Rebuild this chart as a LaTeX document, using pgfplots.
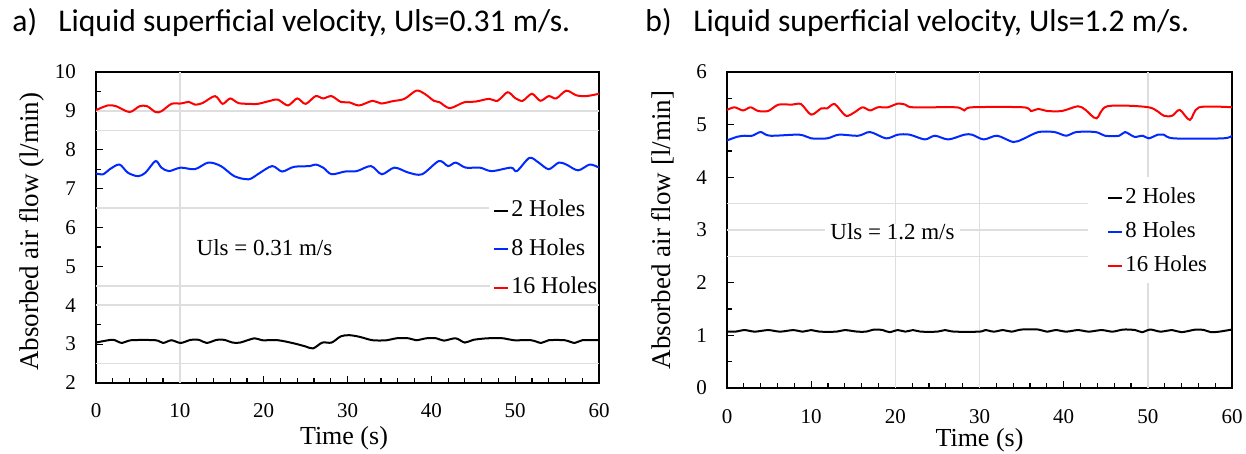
\documentclass[border=0pt]{standalone}
\usepackage{fontspec}
\setmainfont{Liberation Serif}
\newfontfamily\calibri{Carlito}
\usepackage{pgfplots}
\pgfplotsset{compat=1.18}
\definecolor{gridc}{RGB}{222,222,222}
\definecolor{myred}{RGB}{255,0,0}
\definecolor{myblue}{RGB}{0,40,255}
\pgfplotsset{
  myaxis/.style={
    scale only axis, anchor=south west,
    xmin=0, xmax=60, xtick={0,10,...,60}, minor x tick num=4,
    minor y tick num=1,
    tick align=inside, tick pos=left,
    major tick length=3.5pt, minor tick length=2.5pt,
    every tick/.style={black, line width=0.6pt},
    axis line style={line width=0.9pt},
    tick label style={font=\rmfamily\fontsize{10.5}{12}\selectfont},
    /pgf/number format/assume math mode=true,
    yticklabel style={xshift=-6.5pt},
    every axis plot/.append style={line width=1pt, smooth, tension=0.5},
    legend image code/.code={\draw[#1, line width=1pt, sharp plot] (0pt,0pt) -- (7pt,0pt);},
    legend cell align=left,
  }
}
\begin{document}
\begin{tikzpicture}
\useasboundingbox (0,0) rectangle (623pt,227pt);
\node[anchor=base west, inner sep=0pt, font=\calibri\fontsize{15.8}{18}\selectfont] at (6pt,211pt) {a)};
\node[anchor=base west, inner sep=0pt, font=\calibri\fontsize{15.8}{18}\selectfont] at (29pt,211pt) {Liquid superficial velocity, Uls=0.31 m/s.};
\node[anchor=base west, inner sep=0pt, font=\calibri\fontsize{15.8}{18}\selectfont] at (322.5pt,211pt) {b)};
\node[anchor=base west, inner sep=0pt, font=\calibri\fontsize{15.8}{18}\selectfont] at (346.5pt,211pt) {Liquid superficial velocity, Uls=1.2 m/s.};

% ---------- panel a ----------
\begin{axis}[myaxis,
  at={(48pt,35.5pt)}, width=251.5pt, height=155.5pt,
  ymin=2, ymax=10, ytick={2,...,10},
  xticklabel style={yshift=-6.5pt},
  xlabel={Time (s)}, ylabel={Absorbed air flow (l/min)},
  every axis x label/.style={at={(axis description cs:0.493,-0.177)}, anchor=center, font=\rmfamily\fontsize{13}{15}\selectfont},
  every axis y label/.style={at={(axis description cs:-0.128,0.4865)}, anchor=center, rotate=90, font=\rmfamily\fontsize{13.5}{15}\selectfont},
  legend style={at={(axis description cs:0.789,0.5932)}, anchor=north west, draw=none, fill=none, inner sep=0pt,
    row sep=7.2pt, column sep=1pt, font=\rmfamily\fontsize{12}{14}\selectfont,
    nodes={inner sep=0pt, text height=9pt, text depth=3pt}},
]
\draw[gridc, line width=0.8pt] (axis cs:10,2) -- (axis cs:10,10);
\draw[gridc, line width=0.8pt] (axis cs:0,9) -- (axis cs:60,9);
\draw[gridc, line width=0.8pt] (axis cs:0,8.5) -- (axis cs:60,8.5);
\draw[gridc, line width=0.8pt] (axis cs:0,6.5) -- (axis cs:46.9,6.5);
\draw[gridc, line width=0.8pt] (axis cs:0,4.5) -- (axis cs:47,4.5);
\draw[gridc, line width=0.8pt] (axis cs:0,4) -- (axis cs:60,4);
\draw[gridc, line width=0.8pt] (axis cs:0,2.5) -- (axis cs:60,2.5);
\addplot[black] coordinates {(0,3.04)(1.2,3.09)(2.1,3.11)(3.1,3.03)(4.2,3.10)(7.1,3.10)(8.0,3.03)(9.0,3.10)(10.1,3.03)(11.3,3.11)(12.3,3.11)(13.2,3.03)(14.4,3.11)(15.3,3.11)(16.3,3.04)(17.2,3.04)(18.9,3.15)(19.8,3.10)(21.7,3.10)(23.6,3.02)(25.0,2.94)(25.9,2.89)(27.0,3.04)(28.1,3.04)(29.2,3.2)(30.2,3.23)(31.4,3.19)(33.0,3.10)(34.7,3.10)(35.8,3.15)(37.3,3.15)(38.2,3.10)(39.4,3.15)(40.6,3.15)(41.5,3.09)(42.9,3.15)(44.0,3.04)(45.0,3.11)(46.7,3.15)(48.6,3.15)(49.8,3.10)(51.9,3.10)(53.1,3.03)(54.0,3.10)(55.9,3.10)(57.1,3.03)(58.0,3.10)(60,3.10)};
\addlegendentry{2 Holes}
\addplot[myblue] coordinates {(0,7.39)(0.85,7.37)(1.65,7.5)(2.8,7.62)(3.8,7.41)(5.0,7.32)(5.9,7.41)(7.1,7.71)(7.8,7.54)(8.7,7.45)(10.1,7.54)(11.8,7.5)(13.4,7.67)(14.9,7.58)(16.5,7.32)(18.2,7.24)(19.3,7.37)(21.0,7.58)(22.2,7.44)(23.6,7.56)(25.5,7.58)(26.2,7.62)(27.1,7.54)(28.1,7.37)(29.7,7.44)(31.1,7.45)(32.8,7.58)(34.1,7.37)(35.6,7.54)(37.3,7.41)(38.9,7.37)(40.9,7.71)(42.0,7.58)(42.9,7.67)(44.1,7.54)(45.8,7.54)(47.2,7.45)(49.5,7.54)(50.2,7.45)(51.7,7.79)(52.8,7.67)(54.0,7.5)(55.2,7.67)(56.1,7.62)(57.5,7.47)(58.9,7.62)(60,7.54)};
\addlegendentry{8 Holes}
\addplot[myred] coordinates {(0,9.02)(1.4,9.14)(2.4,9.12)(4,8.97)(5.2,9.12)(6.1,9.12)(7.1,8.97)(7.8,8.99)(9.0,9.18)(10.1,9.19)(11.1,9.23)(11.8,9.16)(12.7,9.2)(14.2,9.38)(15.1,9.18)(16.0,9.32)(17.0,9.2)(18.4,9.18)(19.3,9.18)(20.8,9.26)(21.7,9.29)(22.9,9.14)(24.0,9.32)(25.0,9.18)(26.2,9.38)(27.1,9.32)(28.1,9.38)(29.2,9.23)(30.2,9.22)(31.4,9.14)(33.0,9.26)(34.0,9.19)(35.4,9.25)(36.8,9.31)(38.2,9.52)(39.2,9.44)(40.3,9.26)(41.0,9.22)(42.2,9.07)(43.9,9.22)(45.3,9.24)(46.9,9.31)(47.9,9.26)(49.1,9.48)(50.0,9.33)(50.9,9.26)(52.0,9.44)(53.0,9.26)(54.0,9.38)(54.9,9.32)(56.1,9.52)(57.3,9.40)(58.5,9.38)(60,9.44)};
\addlegendentry{16 Holes}
\node[anchor=base, inner sep=0pt, font=\rmfamily\fontsize{11.5}{13}\selectfont] at (axis cs:20.1,5.29) {Uls = 0.31 m/s};
\end{axis}

% ---------- panel b ----------
\begin{axis}[myaxis,
  at={(363.5pt,33pt)}, width=252.5pt, height=158pt,
  ymin=0, ymax=6, ytick={0,...,6},
  xticklabel style={yshift=-7pt},
  xlabel={Time (s)}, ylabel={Absorbed air flow [l/min]},
  every axis x label/.style={at={(axis description cs:0.5,-0.166)}, anchor=center, font=\rmfamily\fontsize{13}{15}\selectfont},
  every axis y label/.style={at={(axis description cs:-0.1267,0.5)}, anchor=center, rotate=90, font=\rmfamily\fontsize{13.5}{15}\selectfont},
  legend style={at={(axis description cs:0.7525,0.6383)}, anchor=north west, draw=none, fill=none, inner sep=0pt,
    row sep=5.35pt, column sep=1pt, font=\rmfamily\fontsize{11.4}{13}\selectfont,
    nodes={inner sep=0pt, text height=8.5pt, text depth=3pt}},
]
\draw[gridc, line width=0.8pt] (axis cs:20,0) -- (axis cs:20,6);
\draw[gridc, line width=0.8pt] (axis cs:30,0) -- (axis cs:30,6);
\draw[gridc, line width=0.8pt] (axis cs:50,4) -- (axis cs:50,6);
\draw[gridc, line width=0.8pt] (axis cs:50,0) -- (axis cs:50,2);
\draw[gridc, line width=0.8pt] (axis cs:0,3.5) -- (axis cs:42.9,3.5);
\draw[gridc, line width=0.8pt] (axis cs:0,3) -- (axis cs:42.9,3);
\draw[gridc, line width=0.8pt] (axis cs:0,2.5) -- (axis cs:42.9,2.5);
\addplot[black] coordinates {(0,1.07)(1,1.07)(2.1,1.10)(3.3,1.07)(4.9,1.10)(6.3,1.07)(7.9,1.10)(9,1.07)(10,1.10)(11,1.07)(13,1.07)(14,1.10)(15.5,1.07)(16.5,1.07)(17.5,1.11)(18.5,1.10)(19.3,1.06)(20.3,1.10)(21.2,1.07)(22.1,1.10)(23,1.07)(25,1.07)(25.9,1.10)(27,1.07)(30,1.07)(30.7,1.10)(31.7,1.07)(32.8,1.10)(33.8,1.07)(35,1.11)(37,1.11)(38,1.07)(39.1,1.10)(40.3,1.07)(41.7,1.10)(43,1.07)(44.5,1.10)(45.8,1.07)(47.1,1.11)(48.5,1.10)(49.3,1.06)(50.3,1.11)(51.5,1.07)(52.9,1.10)(54,1.06)(55.7,1.11)(56.7,1.10)(57.5,1.06)(58.5,1.07)(60,1.11)};
\addlegendentry{2 Holes}
\addplot[myblue] coordinates {(0,4.70)(1.2,4.77)(2.1,4.79)(3.0,4.79)(4.0,4.86)(5.1,4.79)(8.6,4.81)(10.0,4.74)(11.9,4.74)(13.3,4.81)(15.6,4.79)(17.0,4.86)(18.9,4.74)(20.3,4.81)(21.7,4.81)(23.5,4.72)(24.7,4.79)(26.3,4.72)(28.2,4.81)(29.1,4.81)(30.5,4.72)(32.1,4.79)(34.0,4.67)(35.2,4.73)(37.0,4.86)(38.9,4.86)(40.3,4.79)(41.5,4.86)(43.8,4.86)(44.9,4.79)(46.6,4.79)(47.3,4.86)(48.4,4.77)(49.4,4.79)(50.1,4.74)(51.2,4.81)(51.9,4.81)(53.1,4.74)(58.9,4.74)(60,4.79)};
\addlegendentry{8 Holes}
\addplot[myred] coordinates {(0,5.28)(0.9,5.33)(1.9,5.27)(2.8,5.33)(3.7,5.26)(4.9,5.26)(6.1,5.38)(7.7,5.38)(8.8,5.39)(10.0,5.19)(11.2,5.31)(11.9,5.31)(12.8,5.39)(14.1,5.17)(15.1,5.23)(16.1,5.33)(17.0,5.27)(17.9,5.33)(19.1,5.33)(20.3,5.40)(21.2,5.38)(22.1,5.33)(27.2,5.33)(28.2,5.27)(29.1,5.33)(35.2,5.33)(36.1,5.26)(37.0,5.30)(38.0,5.26)(39.8,5.26)(41.7,5.35)(42.6,5.28)(43.9,5.12)(45.2,5.35)(50.1,5.33)(51.9,5.17)(52.9,5.17)(53.8,5.28)(55.0,5.09)(56.1,5.33)(60,5.33)};
\addlegendentry{16 Holes}
\node[anchor=base, fill=white, inner xsep=2.5pt, inner ysep=0pt, font=\rmfamily\fontsize{11.5}{13}\selectfont] at (axis cs:19.66,2.82) {Uls = 1.2 m/s};
\end{axis}
\end{tikzpicture}
\end{document}
